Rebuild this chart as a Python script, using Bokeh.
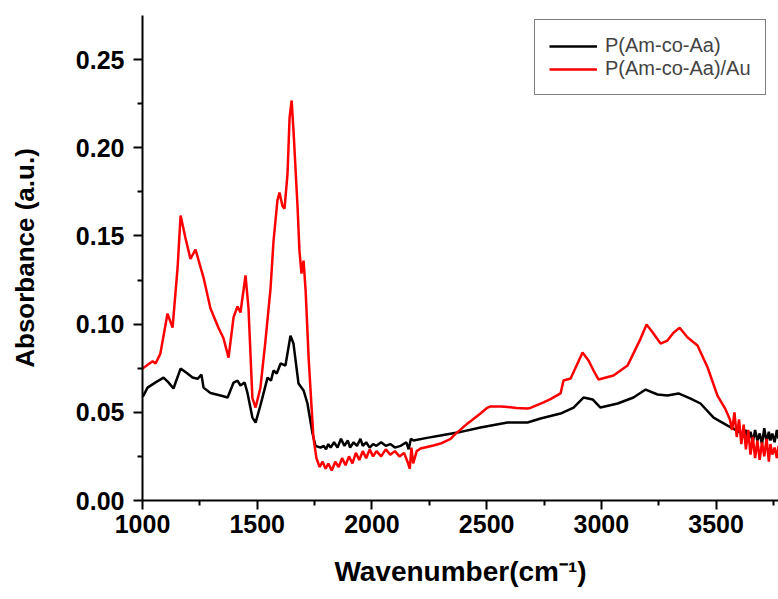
from bokeh.plotting import figure
from bokeh.models import FixedTicker, NumeralTickFormatter, Legend, LegendItem, Range1d
from bokeh.embed import file_html
from bokeh.resources import INLINE

# ---- data ----
black_x = [1000, 1004, 1022, 1057, 1092, 1113, 1135, 1166, 1196, 1218, 1240, 1257, 1266, 1296,
           1340, 1371, 1397, 1414, 1427, 1445, 1458, 1479, 1493, 1514, 1530, 1545, 1560, 1571,
           1585, 1602, 1623, 1645, 1658, 1680, 1702, 1719, 1741, 1754, 1776, 1790, 1800, 1810,
           1820, 1835, 1850, 1865, 1880, 1895, 1905, 1920, 1935, 1950, 1960, 1975, 1990, 2005,
           2020, 2040, 2060, 2080, 2100, 2125, 2150, 2160, 2170, 2181, 2240, 2299, 2373, 2473,
           2591, 2678, 2735, 2822, 2879, 2922, 2962, 2996, 3071, 3140, 3193, 3245, 3288, 3336,
           3389, 3432, 3489, 3550, 3607, 3620, 3630, 3640, 3650, 3660, 3670, 3680, 3690, 3700,
           3710, 3720, 3730, 3737, 3745, 3755, 3765, 3772]
black_y = [0.059, 0.0595, 0.064, 0.067, 0.0697, 0.067, 0.0635, 0.0748, 0.072, 0.0697, 0.069,
           0.0714, 0.064, 0.061, 0.0595, 0.0584, 0.0669, 0.068, 0.0652, 0.0669, 0.0607, 0.047,
           0.0442, 0.054, 0.062, 0.0697, 0.068, 0.0737, 0.072, 0.0777, 0.0765, 0.0935, 0.089,
           0.0663, 0.0624, 0.055, 0.038, 0.031, 0.030, 0.031, 0.029, 0.032, 0.030, 0.033, 0.030,
           0.035, 0.031, 0.034, 0.030, 0.033, 0.031, 0.035, 0.031, 0.033, 0.030, 0.032, 0.031,
           0.033, 0.031, 0.032, 0.030, 0.031, 0.033, 0.029, 0.035, 0.034, 0.0355, 0.0368, 0.0385,
           0.0414, 0.0442, 0.0442, 0.0465, 0.0493, 0.0527, 0.0584, 0.0573, 0.0527, 0.055, 0.0584,
           0.0629, 0.0601, 0.0595, 0.0607, 0.0578, 0.055, 0.047, 0.0425, 0.0385, 0.036, 0.040,
           0.034, 0.039, 0.033, 0.040, 0.034, 0.038, 0.032, 0.041, 0.033, 0.039, 0.034, 0.038,
           0.033, 0.040, 0.035]

red_x = [1000, 1044, 1057, 1078, 1109, 1131, 1153, 1166, 1187, 1209, 1231, 1266, 1296, 1331,
         1353, 1375, 1397, 1414, 1427, 1449, 1462, 1479, 1493, 1514, 1536, 1558, 1571, 1588,
         1597, 1610, 1619, 1632, 1641, 1650, 1658, 1676, 1684, 1693, 1702, 1711, 1724, 1737,
         1745, 1758, 1772, 1785, 1798, 1810, 1825, 1840, 1855, 1870, 1885, 1900, 1915, 1930,
         1945, 1960, 1975, 1990, 2005, 2020, 2040, 2060, 2080, 2100, 2120, 2140, 2155, 2165,
         2172, 2180, 2195, 2212, 2268, 2299, 2343, 2356, 2417, 2473, 2504, 2517, 2561, 2591,
         2630, 2678, 2691, 2748, 2778, 2822, 2835, 2866, 2918, 2944, 2966, 2988, 3053, 3114,
         3171, 3197, 3227, 3258, 3288, 3315, 3341, 3376, 3419, 3463, 3506, 3540, 3560, 3570,
         3580, 3590, 3600, 3610, 3620, 3630, 3640, 3650, 3660, 3670, 3680, 3690, 3700, 3710,
         3720, 3730, 3737, 3745, 3755, 3765, 3772]
red_y = [0.0748, 0.079, 0.0777, 0.0833, 0.106, 0.098, 0.132, 0.1616, 0.149, 0.137, 0.1423,
         0.1264, 0.109, 0.098, 0.092, 0.081, 0.104, 0.110, 0.1066, 0.1276, 0.109, 0.058, 0.0527,
         0.064, 0.0907, 0.1202, 0.147, 0.170, 0.1746, 0.167, 0.1655, 0.185, 0.217, 0.2268, 0.21,
         0.166, 0.1417, 0.1287, 0.136, 0.119, 0.081, 0.0527, 0.0357, 0.024, 0.019, 0.022, 0.018,
         0.021, 0.017, 0.022, 0.019, 0.024, 0.020, 0.025, 0.021, 0.027, 0.023, 0.028, 0.024,
         0.029, 0.025, 0.028, 0.025, 0.029, 0.026, 0.028, 0.025, 0.027, 0.022, 0.018, 0.030,
         0.021, 0.028, 0.0295, 0.0312, 0.0323, 0.035, 0.0368, 0.0437, 0.0493, 0.0527, 0.0533,
         0.0533, 0.053, 0.0525, 0.0522, 0.0525, 0.0556, 0.0575, 0.0607, 0.068, 0.0692, 0.0839,
         0.0794, 0.0737, 0.0686, 0.0709, 0.0765, 0.0918, 0.0998, 0.0947, 0.089, 0.0907, 0.0952,
         0.098, 0.0924, 0.0879, 0.0754, 0.0595, 0.052, 0.046, 0.040, 0.050, 0.036, 0.046, 0.032,
         0.043, 0.029, 0.040, 0.026, 0.036, 0.024, 0.034, 0.023, 0.033, 0.025, 0.035, 0.022,
         0.032, 0.026, 0.030, 0.024, 0.031, 0.027]

x_ticks = [1000, 1500, 2000, 2500, 3000, 3500]
x_minor = [1250, 1750, 2250, 2750, 3250, 3750]
y_ticks = [0.0, 0.05, 0.10, 0.15, 0.20, 0.25]
y_minor = [0.025, 0.075, 0.125, 0.175, 0.225]
labels = ["P(Am-co-Aa)", "P(Am-co-Aa)/Au"]

FONT = "Liberation Sans"

p = figure(width=778, height=599, x_range=Range1d(1000, 3772), y_range=Range1d(0, 0.275),
           output_backend="svg", toolbar_location=None,
           min_border_left=142, min_border_right=0, min_border_top=15, min_border_bottom=99)
p.outline_line_color = None
p.grid.visible = False
p.background_fill_color = "white"
p.border_fill_color = "white"

r1 = p.line(black_x, black_y, line_color="black", line_width=2.5)
r2 = p.line(red_x, red_y, line_color="#ff0000", line_width=2.5)

for ax in (p.xaxis[0], p.yaxis[0]):
    ax.axis_line_width = 2
    ax.major_tick_line_width = 2
    ax.minor_tick_line_width = 2
    ax.major_tick_in = 0
    ax.major_tick_out = 9
    ax.minor_tick_in = 0
    ax.minor_tick_out = 5
    ax.major_label_text_font = FONT
    ax.major_label_text_font_style = "bold"
    ax.major_label_text_font_size = "25px"
    ax.major_label_text_color = "black"
    ax.axis_label_text_font = FONT
    ax.axis_label_text_font_style = "bold"
    ax.axis_label_text_color = "black"

p.xaxis.ticker = FixedTicker(ticks=x_ticks, minor_ticks=x_minor)
p.yaxis.ticker = FixedTicker(ticks=y_ticks, minor_ticks=y_minor)
p.yaxis.formatter = NumeralTickFormatter(format="0.00")
p.xaxis.major_label_standoff = 5
p.yaxis.major_label_standoff = 9
p.xaxis.axis_label = "Wavenumber(cm\u207b\u00b9)"
p.yaxis.axis_label = "Absorbance (a.u.)"
p.xaxis.axis_label_text_font_size = "28px"
p.yaxis.axis_label_text_font_size = "26px"
p.xaxis.axis_label_standoff = 20
p.yaxis.axis_label_standoff = 33

legend = Legend(items=[LegendItem(label=labels[0], renderers=[r1]),
                       LegendItem(label=labels[1], renderers=[r2])],
                location=(392, 405), padding=14, spacing=0, margin=0,
                glyph_width=48, label_standoff=8,
                label_text_font=FONT, label_text_font_size="20px",
                border_line_color="black", border_line_width=1,
                background_fill_alpha=1.0)
p.add_layout(legend)

open("out.html", "w").write(file_html(p, INLINE))
